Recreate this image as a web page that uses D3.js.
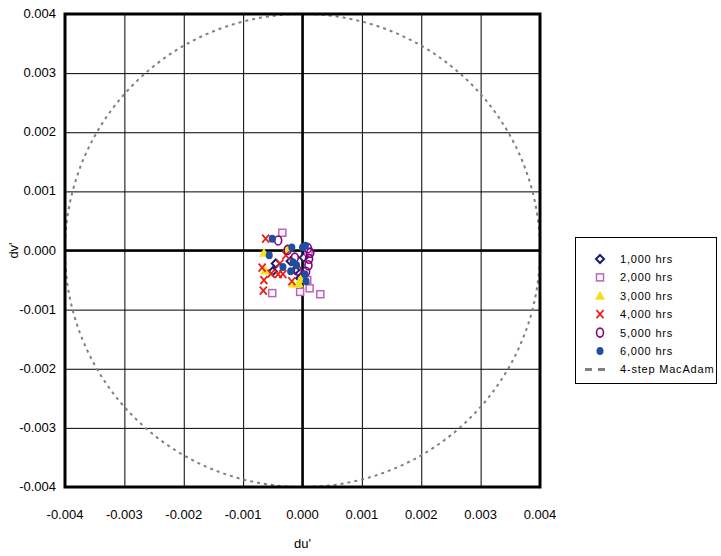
<!DOCTYPE html>
<html>
<head>
<meta charset="utf-8">
<script src="https://cdn.jsdelivr.net/npm/d3@7"></script>
<style>
  body { margin: 0; background: #fff; }
  text { font-family: "Liberation Sans Narrow", "Liberation Sans", Arial, sans-serif; }
</style>
</head>
<body>
<svg id="chart" width="721" height="556"></svg>
<script>
// ticks
const xTicks = [-0.004, -0.003, -0.002, -0.001, 0, 0.001, 0.002, 0.003, 0.004];
const yTicks = [-0.004, -0.003, -0.002, -0.001, 0, 0.001, 0.002, 0.003, 0.004];
const macAdamRadius = 0.004;

// series (du', dv')
const hrs1000 = [[-0.00045, -0.00022], [-0.0005, -0.00035], [-0.00004, -0.00047], [-0.0002, -0.00018], [0.00002, -0.00012], [-0.00012, -0.00033]];
const hrs2000 = [[-0.00034, 0.0003], [-0.00051, -0.00072], [-0.00004, -0.0007], [0.00012, -0.00064], [0.0003, -0.00074], [0.00008, -0.0005], [0.0001, -0.00002]];
const hrs3000 = [[-0.00065, -0.00004], [-0.00026, 0.00003], [-0.00063, -0.00034], [-0.00016, -0.00056], [-0.00006, -0.00056], [-0.00003, -0.00048]];
const hrs4000 = [[-0.00062, 0.0002], [-0.00068, -0.00029], [-0.00065, -0.0005], [-0.00066, -0.00068], [-0.00053, -0.00039], [-0.00041, -0.0004], [-0.00033, -0.0004], [-0.00038, -0.00022], [-0.00018, -0.00052], [-0.00028, -0.00008]];
const hrs5000 = [[-0.00041, 0.00017], [0.00009, 0.00004], [0.00013, -0.00004], [0.00011, -0.00014], [0.0001, -0.00025], [0.00006, -0.00036], [-0.00013, -0.00012], [-0.00008, -0.00034], [-0.00025, 0.00001]];
const hrs6000 = [[-0.00051, 0.0002], [-0.00056, -0.00008], [-0.00018, 0.00005], [0.0, 0.00005], [0.00005, 0.00008], [-0.00033, -0.00028], [-0.0002, -0.00035], [-0.00016, -0.0002], [0.00004, -0.0004], [0.00006, -0.00052], [-0.0001, -0.00025]];

const seriesNames = ["1,000 hrs", "2,000 hrs", "3,000 hrs", "4,000 hrs", "5,000 hrs", "6,000 hrs"];
const seriesData = [hrs1000, hrs2000, hrs3000, hrs4000, hrs5000, hrs6000];
const seriesColors = ["#1C1C6A", "#C060B8", "#F2E21E", "#E8201E", "#800080", "#1F4E9E"];
const seriesShapes = ["diamond", "square", "triangle", "cross", "ring", "dot"];

const svg = d3.select("#chart");
const pLeft = 65, pRight = 540, pTop = 14, pBottom = 487;

const x = d3.scaleLinear().domain([-0.004, 0.004]).range([pLeft, pRight]);
const y = d3.scaleLinear().domain([-0.004, 0.004]).range([pBottom, pTop]);

// grid
svg.append("g")
  .attr("transform", `translate(0,${pBottom})`)
  .call(d3.axisBottom(x).tickValues(xTicks).tickSize(-(pBottom - pTop)).tickFormat(""))
  .call(g => g.select(".domain").remove())
  .call(g => g.selectAll("line").attr("stroke", "#000").attr("stroke-width", 1));
svg.append("g")
  .attr("transform", `translate(${pLeft},0)`)
  .call(d3.axisLeft(y).tickValues(yTicks).tickSize(-(pRight - pLeft)).tickFormat(""))
  .call(g => g.select(".domain").remove())
  .call(g => g.selectAll("line").attr("stroke", "#000").attr("stroke-width", 1));

// zero lines
svg.append("line").attr("x1", x(0)).attr("x2", x(0)).attr("y1", pTop).attr("y2", pBottom)
  .attr("stroke", "#000").attr("stroke-width", 2.5);
svg.append("line").attr("x1", pLeft).attr("x2", pRight).attr("y1", y(0)).attr("y2", y(0))
  .attr("stroke", "#000").attr("stroke-width", 2.5);

// MacAdam circle
const circlePts = d3.range(0, 361, 2).map(a => [macAdamRadius * Math.cos(a * Math.PI / 180), macAdamRadius * Math.sin(a * Math.PI / 180)]);
svg.append("path")
  .datum(circlePts)
  .attr("d", d3.line().x(d => x(d[0])).y(d => y(d[1])))
  .attr("fill", "none")
  .attr("stroke", "#808080")
  .attr("stroke-width", 2)
  .attr("stroke-dasharray", "3,4");

// frame
svg.append("rect").attr("x", pLeft).attr("y", pTop).attr("width", pRight - pLeft).attr("height", pBottom - pTop)
  .attr("fill", "none").attr("stroke", "#000").attr("stroke-width", 3);

// tick labels
svg.append("g").selectAll("text").data(yTicks).enter().append("text")
  .attr("x", pLeft - 9).attr("y", d => y(d) + 4)
  .attr("text-anchor", "end").attr("font-size", 13)
  .text(d => d3.format(".3f")(d).replace("−", "-"));
svg.append("g").selectAll("text").data(xTicks).enter().append("text")
  .attr("x", d => x(d)).attr("y", pBottom + 32)
  .attr("text-anchor", "middle").attr("font-size", 13)
  .text(d => d3.format(".3f")(d).replace("−", "-"));

svg.append("text").attr("x", x(0)).attr("y", 548).attr("text-anchor", "middle")
  .attr("font-size", 13).text("du'");
svg.append("text").attr("transform", `translate(18,${y(0)}) rotate(-90)`).attr("text-anchor", "middle")
  .attr("font-size", 13).text("dv'");

function drawMarker(g, shape, color, cx, cy) {
  if (shape === "diamond") {
    g.append("path").attr("d", `M${cx},${cy - 4}L${cx + 4},${cy}L${cx},${cy + 4}L${cx - 4},${cy}Z`)
      .attr("fill", "#fff").attr("stroke", color).attr("stroke-width", 2);
  } else if (shape === "square") {
    g.append("rect").attr("x", cx - 3.5).attr("y", cy - 3.5).attr("width", 7).attr("height", 7)
      .attr("fill", "#fff").attr("stroke", color).attr("stroke-width", 1.5);
  } else if (shape === "triangle") {
    g.append("path").attr("d", `M${cx},${cy - 5}L${cx + 5},${cy + 4}L${cx - 5},${cy + 4}Z`)
      .attr("fill", color);
  } else if (shape === "cross") {
    g.append("path").attr("d", `M${cx - 3.5},${cy - 4}L${cx + 3.5},${cy + 4}M${cx + 3.5},${cy - 4}L${cx - 3.5},${cy + 4}`)
      .attr("stroke", color).attr("stroke-width", 1.8).attr("fill", "none");
  } else if (shape === "ring") {
    g.append("ellipse").attr("cx", cx).attr("cy", cy).attr("rx", 3.5).attr("ry", 4.5)
      .attr("fill", "none").attr("stroke", color).attr("stroke-width", 1.6);
  } else {
    g.append("ellipse").attr("cx", cx).attr("cy", cy).attr("rx", 3.5).attr("ry", 4)
      .attr("fill", color);
  }
}

// points
const pts = svg.append("g");
seriesData.forEach((data, i) => {
  data.forEach(d => drawMarker(pts, seriesShapes[i], seriesColors[i], x(d[0]), y(d[1])));
});

// legend
const lg = svg.append("g");
lg.append("rect").attr("x", 575.5).attr("y", 237.5).attr("width", 141).attr("height", 146)
  .attr("fill", "#fff").attr("stroke", "#000").attr("stroke-width", 1);
seriesNames.forEach((name, i) => {
  const ly = 259 + i * 18.4;
  drawMarker(lg, seriesShapes[i], seriesColors[i], 600, ly);
  lg.append("text").attr("x", 620).attr("y", ly + 4).attr("font-size", 11)
    .attr("letter-spacing", 0.8).style("font-family", "Arial, 'Liberation Sans', sans-serif").text(name);
});
const macY = 259 + 6 * 18.4;
lg.append("line").attr("x1", 585).attr("x2", 610).attr("y1", macY).attr("y2", macY)
  .attr("stroke", "#808080").attr("stroke-width", 3).attr("stroke-dasharray", "7,6");
lg.append("text").attr("x", 620).attr("y", macY + 4).attr("font-size", 11)
  .attr("letter-spacing", 0.8).style("font-family", "Arial, 'Liberation Sans', sans-serif").text("4-step MacAdam");
</script>
</body>
</html>
